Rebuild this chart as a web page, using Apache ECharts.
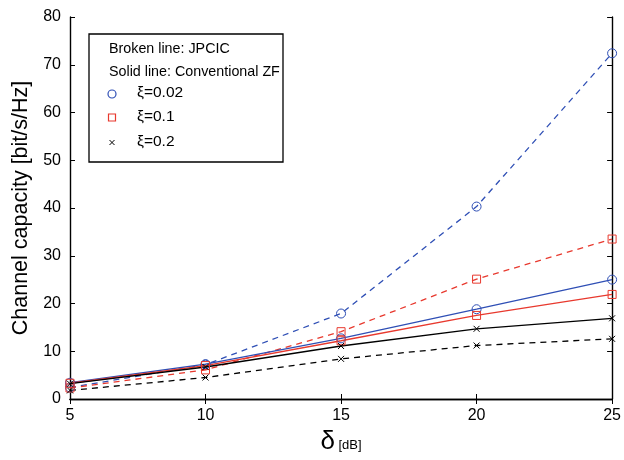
<!DOCTYPE html>
<html><head><meta charset="utf-8">
<script src="https://cdn.jsdelivr.net/npm/echarts@6/dist/echarts.min.js"></script>
<style>html,body{margin:0;padding:0;background:#fff}#c{width:624px;height:460px}</style>
</head><body><div id="c"></div>
<script>
var xValues = [5, 10, 15, 20, 25];
var jpcic002 = [2.4, 7.2, 17.9, 40.3, 72.4];
var jpcic01  = [2.3, 6.1, 14.1, 25.1, 33.5];
var jpcic02  = [1.8, 4.5, 8.4, 11.2, 12.6];
var zf002    = [3.4, 7.3, 12.7, 18.8, 25.0];
var zf01     = [3.3, 7.0, 12.2, 17.5, 21.9];
var zf02     = [3.2, 6.7, 11.1, 14.7, 16.9];
var legendLines = ['Broken line: JPCIC', 'Solid line: Conventional ZF'];
var xiLabels = ['ξ=0.02', 'ξ=0.1', 'ξ=0.2'];

var BLUE = '#2f4fb5', RED = '#e8392e', BLACK = '#000';
var CROSS = 'path://M0,0L10,10M10,0L0,10';
function pairs(v){ return xValues.map(function(x,i){return [x, v[i]];}); }
function mk(name, data, color, dashed, symbol, size){
  return {
    name: name, type: 'line', data: pairs(data), symbol: symbol, symbolSize: size,
    showSymbol: true, animation: false, z: dashed ? 3 : 4,
    lineStyle: {color: color, width: 1.3, type: dashed ? [6, 5] : 'solid'},
    itemStyle: {color: 'rgba(0,0,0,0)', borderColor: color, borderWidth: 1}
  };
}
var series = [
  mk('JPCIC ' + xiLabels[0], jpcic002, BLUE, true, 'circle', 9),
  mk('JPCIC ' + xiLabels[1], jpcic01, RED, true, 'rect', 8),
  mk('JPCIC ' + xiLabels[2], jpcic02, BLACK, true, CROSS, 6),
  mk('ZF ' + xiLabels[0], zf002, BLUE, false, 'circle', 9),
  mk('ZF ' + xiLabels[1], zf01, RED, false, 'rect', 8),
  mk('ZF ' + xiLabels[2], zf02, BLACK, false, CROSS, 6)
];

var FONT = 'Liberation Sans, Arial, sans-serif';
var axisLine = {show: true, lineStyle: {color: '#000', width: 1.4}};
var tick = {show: true, inside: true, length: 5, lineStyle: {color: '#000', width: 1}};
var chart = echarts.init(document.getElementById('c'));

var LF = '14.3px ' + FONT;
var graphic = [
  {type: 'rect', shape: {x: 89, y: 34, width: 194, height: 128},
   style: {fill: '#fff', stroke: '#000', lineWidth: 1.3}, z: 10},
  {type: 'text', x: 109, y: 49, z: 11, style: {text: legendLines[0], font: LF, fill: '#000', textVerticalAlign: 'middle'}},
  {type: 'text', x: 109, y: 72, z: 11, style: {text: legendLines[1], font: LF, fill: '#000', textVerticalAlign: 'middle'}},
  {type: 'circle', shape: {cx: 112, cy: 94, r: 4}, style: {fill: 'none', stroke: BLUE, lineWidth: 1.2}, z: 11},
  {type: 'text', x: 137, y: 93, z: 11, style: {text: xiLabels[0], font: '15.5px ' + FONT, fill: '#000', textVerticalAlign: 'middle'}},
  {type: 'rect', shape: {x: 108.5, y: 114, width: 7, height: 7}, style: {fill: 'none', stroke: RED, lineWidth: 1.2}, z: 11},
  {type: 'text', x: 137, y: 117, z: 11, style: {text: xiLabels[1], font: '15.5px ' + FONT, fill: '#000', textVerticalAlign: 'middle'}},
  {type: 'polyline', shape: {points: [[109.5, 140], [114.5, 145]]}, style: {stroke: BLACK, lineWidth: 1}, z: 11},
  {type: 'polyline', shape: {points: [[114.5, 140], [109.5, 145]]}, style: {stroke: BLACK, lineWidth: 1}, z: 11},
  {type: 'text', x: 137, y: 142, z: 11, style: {text: xiLabels[2], font: '15.5px ' + FONT, fill: '#000', textVerticalAlign: 'middle'}}
];

chart.setOption({
  backgroundColor: '#fff',
  animation: false,
  grid: {left: 70, right: 10, top: 17, bottom: 56},
  xAxis: [
    {type: 'value', min: 5, max: 25, interval: 5, position: 'bottom',
     axisLine: axisLine, axisTick: tick, splitLine: {show: false},
     axisLabel: {color: '#000', fontSize: 16, fontFamily: FONT, margin: 9},
     name: '{d|δ} {u|[dB]}', nameLocation: 'middle', nameGap: 30,
     nameTextStyle: {rich: {d: {fontSize: 26, fontFamily: FONT, color: '#000'}, u: {fontSize: 13, fontFamily: FONT, color: '#000', padding: [7, 0, 0, 0]}}}},
    {type: 'value', min: 5, max: 25, interval: 5, position: 'top',
     axisLine: axisLine, axisTick: tick, axisLabel: {show: false}, splitLine: {show: false}}
  ],
  yAxis: [
    {type: 'value', min: 0, max: 80, interval: 10, position: 'left',
     axisLine: axisLine, axisTick: tick, splitLine: {show: false},
     axisLabel: {color: '#000', fontSize: 16, fontFamily: FONT, margin: 9},
     name: 'Channel capacity [bit/s/Hz]', nameLocation: 'middle', nameGap: 37,
     nameTextStyle: {fontSize: 21.5, fontFamily: FONT, color: '#000'}},
    {type: 'value', min: 0, max: 80, interval: 10, position: 'right',
     axisLine: axisLine, axisTick: tick, axisLabel: {show: false}, splitLine: {show: false}}
  ],
  series: series,
  graphic: graphic
});
</script></body></html>
